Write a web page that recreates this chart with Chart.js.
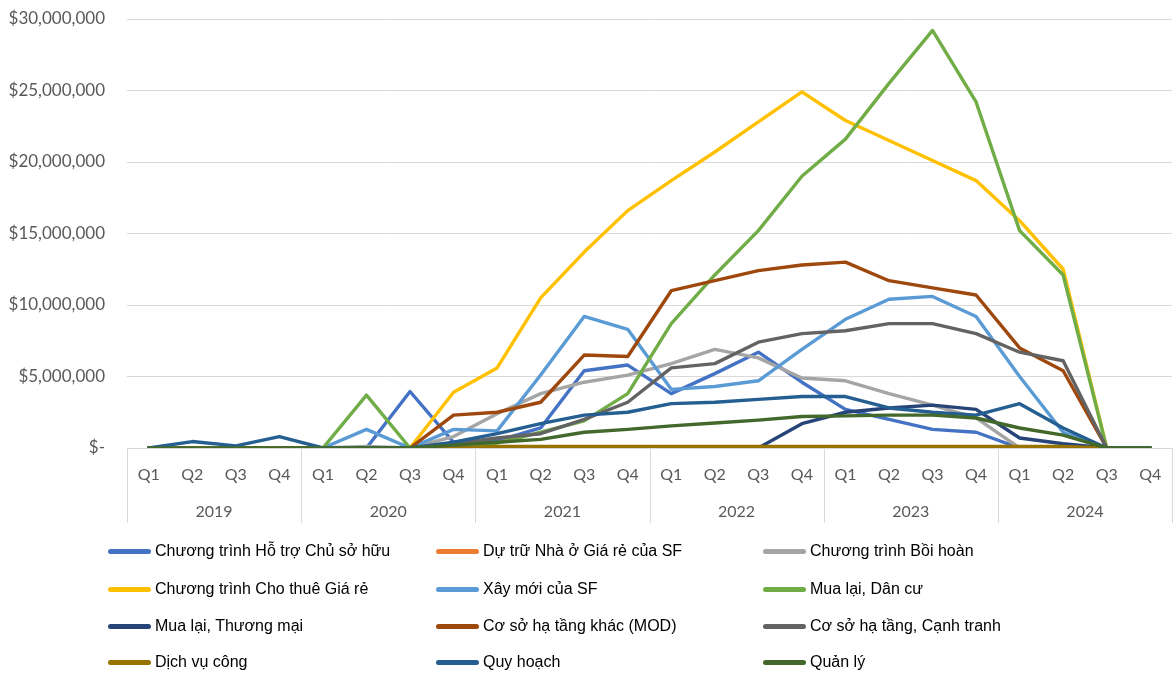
<!DOCTYPE html>
<html>
<head>
<meta charset="utf-8">
<script src="https://cdn.jsdelivr.net/npm/chart.js@4.4.1/dist/chart.umd.min.js"></script>
<style>
  html, body { margin: 0; padding: 0; background: #fff; }
  #wrap { position: relative; width: 1175px; height: 687px; overflow: hidden; }
  #c { position: absolute; left: 0; top: 0; }
  .lg { position: absolute; display: flex; align-items: center; font-family: "Liberation Sans", Arial, sans-serif; font-size: 16px; color: #000; white-space: nowrap; }
  .lg .sw { width: 43px; height: 5px; border-radius: 2.5px; margin-right: 4px; }
</style>
</head>
<body>
<div id="wrap">
  <canvas id="c" width="1175" height="687"></canvas>
</div>
<script>
// ---- data ----
const quarters = ["Q1","Q2","Q3","Q4","Q1","Q2","Q3","Q4","Q1","Q2","Q3","Q4",
                  "Q1","Q2","Q3","Q4","Q1","Q2","Q3","Q4","Q1","Q2","Q3","Q4"];
const years = ["2019","2020","2021","2022","2023","2024"];
const yTicks = [0, 5000000, 10000000, 15000000, 20000000, 25000000, 30000000];

const seriesNames = [
  "Chương trình Hỗ trợ Chủ sở hữu", "Dự trữ Nhà ở Giá rẻ của SF", "Chương trình Bồi hoàn",
  "Chương trình Cho thuê Giá rẻ", "Xây mới của SF", "Mua lại, Dân cư",
  "Mua lại, Thương mại", "Cơ sở hạ tầng khác (MOD)", "Cơ sở hạ tầng, Cạnh tranh",
  "Dịch vụ công", "Quy hoạch", "Quản lý"
];
const seriesColors = ["#4472C4","#ED7D31","#A5A5A5","#FFC000","#5B9BD5","#70AD47",
                      "#264478","#9E480E","#636363","#997300","#255E91","#43682B"];

const homeownership   = [0,0,0,0, 0,0,3950000,400000, 500000,1400000,5400000,5800000, 3800000,5200000,6700000,4600000, 2700000,2000000,1300000,1100000, 0,0,0,0];
const affordReserve   = [0,0,0,0, 0,0,0,0, 0,0,0,0, 0,0,0,0, 0,0,0,0, 0,0,0,0];
const reimbursement   = [0,0,0,0, 0,100000,0,800000, 2400000,3800000,4600000,5100000, 5900000,6900000,6300000,4900000, 4700000,3800000,3000000,2100000, 0,0,0,0];
const affordRental    = [0,0,0,0, 0,0,0,3900000, 5600000,10500000,13700000,16600000, 18700000,20700000,22800000,24900000, 22900000,21500000,20100000,18700000, 15900000,12500000,0,0];
const newConstruction = [0,0,0,0, 0,1300000,0,1300000, 1200000,5100000,9200000,8300000, 4100000,4300000,4700000,6900000, 9000000,10400000,10600000,9200000, 5000000,1100000,0,0];
const acqResidential  = [0,0,0,0, 0,3700000,0,0, 350000,1100000,1900000,3800000, 8700000,12100000,15200000,19000000, 21600000,25500000,29200000,24200000, 15200000,12100000,0,0];
const acqCommercial   = [0,0,0,0, 0,0,0,0, 0,0,0,0, 0,0,0,1700000, 2500000,2800000,3000000,2700000, 700000,300000,0,0];
const infraMOD        = [0,0,0,0, 0,0,0,2300000, 2500000,3200000,6500000,6400000, 11000000,11700000,12400000,12800000, 13000000,11700000,11200000,10700000, 7000000,5400000,0,0];
const infraCompet     = [0,0,0,0, 0,0,0,300000, 700000,1000000,2000000,3200000, 5600000,5900000,7400000,8000000, 8200000,8700000,8700000,8000000, 6700000,6100000,0,0];
const publicServices  = [0,0,0,0, 0,0,0,0, 100000,100000,100000,100000, 100000,100000,100000,100000, 100000,100000,100000,100000, 100000,100000,0,0];
const planning        = [0,450000,150000,800000, 0,0,0,400000, 1000000,1700000,2300000,2500000, 3100000,3200000,3400000,3600000, 3600000,2800000,2500000,2300000, 3100000,1400000,0,0];
const management      = [0,0,0,0, 0,0,0,200000, 400000,600000,1100000,1300000, 1550000,1750000,1950000,2200000, 2250000,2300000,2300000,2100000, 1400000,900000,0,0];

const seriesValues = [homeownership, affordReserve, reimbursement, affordRental, newConstruction,
  acqResidential, acqCommercial, infraMOD, infraCompet, publicServices, planning, management];

// ---- chart ----
const GRID = "#d9d9d9";
const TXT = "#595959";
const xFont = { family: "Lato", size: 16 };
const yFont = { family: "Lato", size: 17 };

const separators = {
  id: "separators",
  afterDraw(chart) {
    const xs = chart.scales.x, ys = chart.scales.xYear;
    const step = xs.getPixelForValue(1) - xs.getPixelForValue(0);
    const ctx = chart.ctx;
    ctx.save();
    ctx.strokeStyle = GRID;
    ctx.lineWidth = 1;
    for (let k = 0; k <= years.length; k++) {
      const x = Math.round(xs.getPixelForValue(k * 4) - step / 2) + 0.5;
      ctx.beginPath();
      ctx.moveTo(x, chart.chartArea.bottom);
      ctx.lineTo(x, ys.bottom - 7);
      ctx.stroke();
    }
    ctx.restore();
  }
};

new Chart(document.getElementById("c"), {
  type: "line",
  data: {
    labels: quarters,
    datasets: seriesNames.map((name, i) => ({
      label: name,
      data: seriesValues[i],
      borderColor: seriesColors[i],
      backgroundColor: seriesColors[i],
      borderWidth: 3.4,
      pointRadius: 0,
      pointHoverRadius: 0,
      tension: 0,
      fill: false,
      borderJoinStyle: "round",
      borderCapStyle: "round",
      order: seriesNames.length - i
    }))
  },
  options: {
    responsive: false,
    animation: false,
    events: [],
    layout: { padding: { top: 19, right: 3, bottom: 157, left: 0 } },
    plugins: { legend: { display: false }, tooltip: { enabled: false } },
    scales: {
      y: {
        min: 0, max: 30000000,
        afterFit(s) { s.width = 127; },
        afterBuildTicks(s) { s.ticks = yTicks.map(v => ({ value: v })); },
        grid: { color: GRID, lineWidth: 1, drawTicks: true, tickLength: 22, tickColor: "rgba(0,0,0,0)" },
        border: { display: false },
        ticks: {
          padding: 0, color: TXT, font: yFont,
          callback: v => v === 0 ? "$-" : "$" + Number(v).toLocaleString("en-US")
        }
      },
      x: {
        type: "category",
        position: "bottom",
        weight: 0,
        offset: true,
        afterFit(s) { s.height = 42; },
        grid: { display: true, drawOnChartArea: false, color: "rgba(0,0,0,0)", drawTicks: true, tickLength: 17, tickColor: "rgba(0,0,0,0)" },
        border: { display: true, color: GRID, width: 1 },
        ticks: { padding: 0, color: TXT, font: xFont, autoSkip: false, maxRotation: 0 }
      },
      xYear: {
        type: "category",
        position: "bottom",
        weight: 1,
        offset: true,
        labels: years,
        afterFit(s) { s.height = 40; },
        grid: { display: false, drawTicks: false },
        border: { display: false },
        ticks: { padding: 12, color: TXT, font: xFont, autoSkip: false, maxRotation: 0 }
      }
    }
  },
  plugins: [separators]
});

// ---- legend (HTML) ----
const colX = [108, 436, 763];
const rowY = [551, 589, 626, 662];
const wrap = document.getElementById("wrap");
seriesNames.forEach((name, i) => {
  const d = document.createElement("div");
  d.className = "lg";
  d.style.left = colX[i % 3] + "px";
  d.style.top = (rowY[Math.floor(i / 3)] - 10) + "px";
  d.style.height = "20px";
  const sw = document.createElement("span");
  sw.className = "sw";
  sw.style.background = seriesColors[i];
  const t = document.createElement("span");
  t.textContent = name;
  d.appendChild(sw); d.appendChild(t);
  wrap.appendChild(d);
});
</script>
</body>
</html>
